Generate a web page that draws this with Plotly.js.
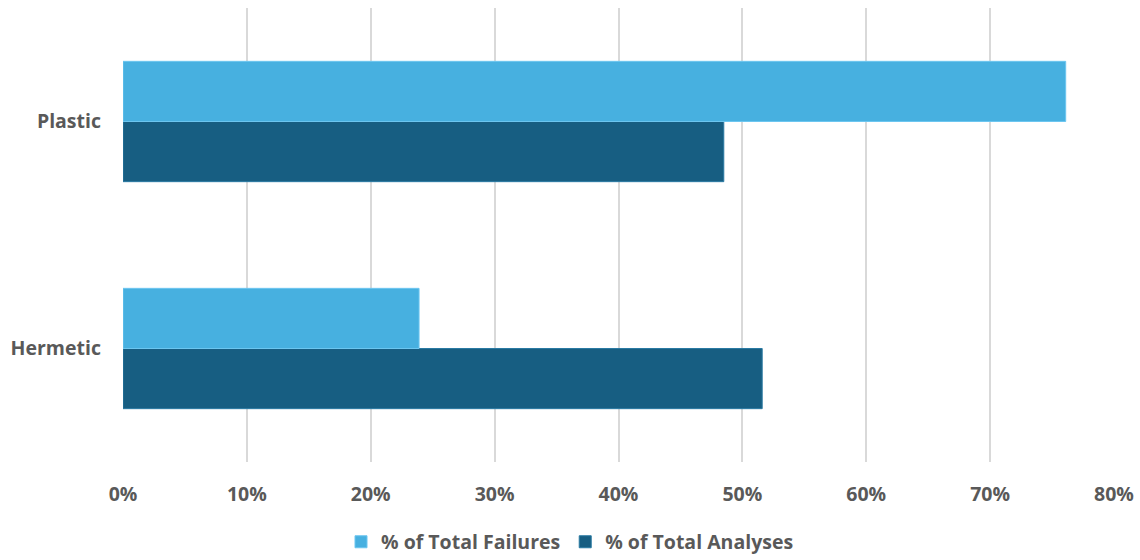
<!DOCTYPE html>
<html>
<head>
<meta charset="utf-8">
<script src="https://cdn.plot.ly/plotly-3.0.1.min.js"></script>
<style>html,body{margin:0;padding:0;background:#fff;}#chart{width:1140px;height:560px;}</style>
</head>
<body>
<div id="chart"></div>
<script>
const categories = ["Hermetic", "Plastic"];
const failures = [0.239, 0.761];
const analyses = [0.516, 0.485];
const xTicks = [0, 0.1, 0.2, 0.3, 0.4, 0.5, 0.6, 0.7, 0.8];
const xTickLabels = ["0%", "10%", "20%", "30%", "40%", "50%", "60%", "70%", "80%"];

const font = {family: "'Open Sans', sans-serif", size: 19.5, color: "#595959", weight: 700};

const traces = [
  {
    type: "bar", orientation: "h", name: "% of Total Analyses",
    y: categories, x: analyses, legendrank: 2,
    marker: {color: "#175E82", line: {color: "#2a7aa3", width: 1}},
    hoverinfo: "x+name"
  },
  {
    type: "bar", orientation: "h", name: "% of Total Failures",
    y: categories, x: failures, legendrank: 1,
    marker: {color: "#47B0E0", line: {color: "#6cc6f0", width: 1}},
    hoverinfo: "x+name"
  }
];

const layout = {
  width: 1140, height: 560,
  margin: {l: 123, r: 26, t: 8, b: 98},
  paper_bgcolor: "#fff", plot_bgcolor: "#fff",
  barmode: "group", bargap: 0.47, bargroupgap: 0,
  font: font,
  xaxis: {
    range: [0, 0.8], tickvals: xTicks, ticktext: xTickLabels,
    showgrid: true, gridcolor: "#D9D9D9", gridwidth: 2,
    zeroline: false, showline: false, ticks: "",
    tickfont: font, ticklabelstandoff: 18, automargin: false
  },
  yaxis: {
    showgrid: false, zeroline: false, showline: false, ticks: "",
    tickfont: font, ticklabelstandoff: 21, automargin: false
  },
  showlegend: true,
  legend: {
    orientation: "h", x: 0.5, xanchor: "center", xref: "container",
    y: 0.032, yanchor: "middle", yref: "container",
    font: font, itemwidth: 30, tracegroupgap: 0
  }
};

Plotly.newPlot("chart", traces, layout, {displayModeBar: false, staticPlot: true});
</script>
</body>
</html>
